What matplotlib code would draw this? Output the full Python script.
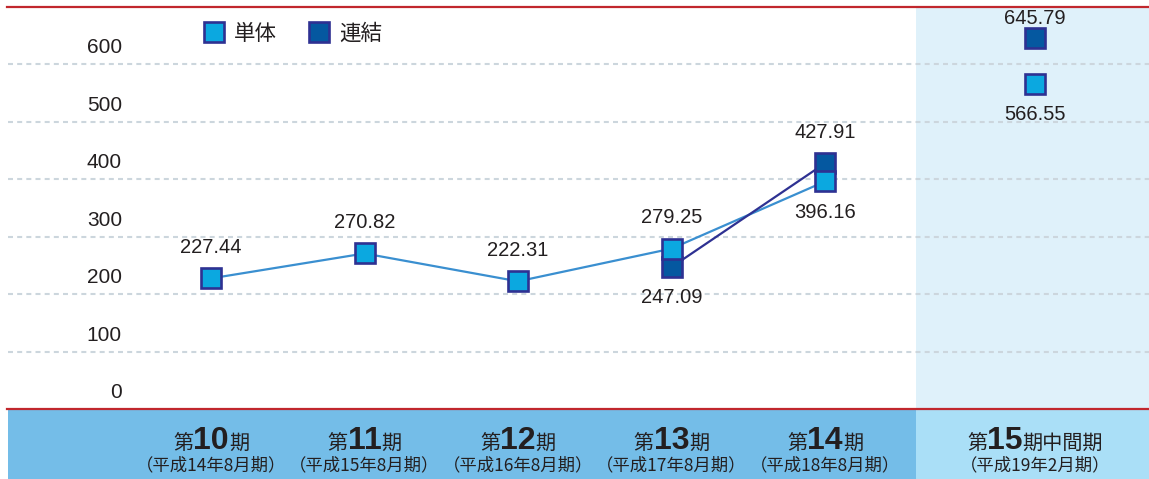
import matplotlib
matplotlib.use('Agg')
import matplotlib.pyplot as plt
import matplotlib.transforms as mtransforms
from matplotlib.lines import Line2D

# ---------------- data ----------------
period_nums = ['10', '11', '12', '13', '14', '15']
period_suffix = ['期', '期', '期', '期', '期', '期中間期']
sub_labels = ['（平成14年8月期）', '（平成15年8月期）', '（平成16年8月期）',
              '（平成17年8月期）', '（平成18年8月期）', '（平成19年2月期）']
tandoku = [227.44, 270.82, 222.31, 279.25, 396.16, 566.55]      # 単体
renketsu = [None, None, None, 247.09, 427.91, 645.79]           # 連結
yticks = [0, 100, 200, 300, 400, 500, 600]
series_names = ['単体', '連結']

# ---------------- layout ----------------
W, H = 1149, 479
DPI = 100
fig = plt.figure(figsize=(W / DPI, H / DPI), dpi=DPI)
fig.patch.set_facecolor('white')

def fx(px):
    return px / W

def fy(py):
    return 1 - py / H

X0, XSTEP = 211, 153.5
xs = [0, 1, 2, 3, 4, (1035 - X0) / XSTEP]
xlim = ((8 - X0) / XSTEP, (1149 - X0) / XSTEP)
split = (916 - X0) / XSTEP

CJK = ['Noto Sans CJK JP', 'DejaVu Sans']
NUM = ['Liberation Sans', 'DejaVu Sans']
TXT = '#231f20'

ax = fig.add_axes([fx(8), fy(409), fx(1149 - 8), (409 - 7) / H])
ax.set_xlim(*xlim)
ax.set_ylim(0, 700)
ax.axis('off')
ax.axvspan(split, xlim[1], color='#dff1fa', zorder=0, lw=0)

for t in yticks[1:]:
    ax.axhline(t, color='#ccd6dd', lw=1.5, ls=(0, (2.4, 2.0)), zorder=1)

# y tick labels (above gridlines)
ytrans = mtransforms.blended_transform_factory(ax.transAxes, ax.transData) + \
    mtransforms.ScaledTranslation(0, 16.5 / DPI, fig.dpi_scale_trans)
for t in yticks:
    ax.text((122 - 8) / (1149 - 8), t, str(t), transform=ytrans, ha='right',
            va='center', fontsize=15, family=NUM, color=TXT)

C_T_FILL, C_R_FILL = '#0ba8e0', '#0558a0'
C_EDGE = '#2e3192'
C_T_LINE = '#3a8fd0'

# lines (last point is not connected)
ax.plot(xs[:5], tandoku[:5], color=C_T_LINE, lw=1.6, zorder=3)
rx = [x for x, v in zip(xs[:5], renketsu[:5]) if v is not None]
rv = [v for v in renketsu[:5] if v is not None]
ax.plot(rx, rv, color=C_EDGE, lw=1.6, zorder=3)

# markers
rx_all = [x for x, v in zip(xs, renketsu) if v is not None]
rv_all = [v for v in renketsu if v is not None]
ax.plot(rx_all, rv_all, ls='none', marker='s', ms=15, mfc=C_R_FILL, mec=C_EDGE,
        mew=1.9, zorder=4)
ax.plot(xs, tandoku, ls='none', marker='s', ms=15, mfc=C_T_FILL, mec=C_EDGE,
        mew=1.9, zorder=5)

# value labels
t_pos = [1, 1, 1, 1, -1, -1]
r_pos = [0, 0, 0, -1, 1, 1]
for x, v, p in zip(xs, tandoku, t_pos):
    ax.annotate(f'{v:.2f}', (x, v), xytext=(0, 22.5 * p), textcoords='offset points',
                ha='center', va='center', fontsize=14.5, family=NUM, color=TXT, zorder=6)
for x, v, p in zip(xs, renketsu, r_pos):
    if v is None:
        continue
    off = 14 if (p > 0 and x == xs[-1]) else 22
    ax.annotate(f'{v:.2f}', (x, v), xytext=(0, off * p), textcoords='offset points',
                ha='center', va='center', fontsize=14.5, family=NUM, color=TXT, zorder=6)

# legend
handles = [Line2D([], [], ls='none', marker='s', ms=15, mfc=C_T_FILL, mec=C_EDGE, mew=1.9),
           Line2D([], [], ls='none', marker='s', ms=15, mfc=C_R_FILL, mec=C_EDGE, mew=1.9)]
leg = ax.legend(handles, series_names, loc='center left',
                bbox_to_anchor=(fx(203), fy(34)), bbox_transform=fig.transFigure,
                ncol=2, frameon=False, handlelength=1.0, handletextpad=0.45,
                columnspacing=1.45, borderpad=0, borderaxespad=0,
                prop={'family': CJK, 'size': 15.5})
for txt in leg.get_texts():
    txt.set_color(TXT)

# bottom band
bax = fig.add_axes([fx(8), 0, fx(1149 - 8), 70 / H])
bax.set_xlim(*xlim)
bax.set_ylim(0, 1)
bax.axis('off')
bax.axvspan(xlim[0], split, color='#74bde8', lw=0, zorder=0)
bax.axvspan(split, xlim[1], color='#aadff7', lw=0, zorder=0)

renderer = fig.canvas.get_renderer()
base_y = (479 - 449) / 70
for x, num, suf, sub in zip(xs, period_nums, period_suffix, sub_labels):
    parts = [('第', CJK, 'normal', 14.5), (num, NUM, 'bold', 23), (suf, CJK, 'normal', 14.5)]
    objs = []
    for s, fam, wt, sz in parts:
        objs.append(bax.text(x, base_y, s, family=fam, fontweight=wt, fontsize=sz,
                             color=TXT, ha='left', va='baseline'))
    widths = [o.get_window_extent(renderer).width for o in objs]
    total = sum(widths)
    cur = -total / 2
    for o, w in zip(objs, widths):
        o.set_transform(bax.transData + mtransforms.ScaledTranslation(cur / DPI, 0, fig.dpi_scale_trans))
        cur += w
    bax.text(x, (479 - 465) / 70, sub, family=CJK, fontsize=12.5, color=TXT,
             ha='center', va='center')

# red rules
fig.add_artist(Line2D([fx(7), 1], [fy(7), fy(7)], color='#c1272d', lw=1.6))
fig.add_artist(Line2D([fx(7), 1], [fy(409), fy(409)], color='#c1272d', lw=1.6))

fig.savefig('out.png', dpi=DPI)
